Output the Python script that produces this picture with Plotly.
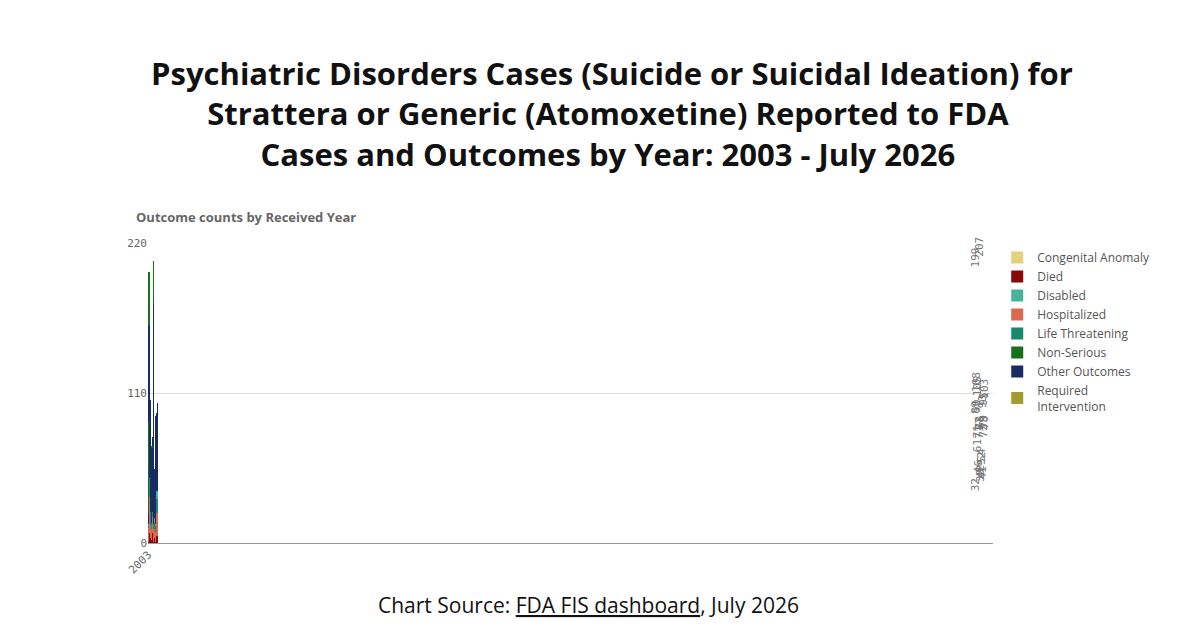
import plotly.graph_objects as go

years = [str(y) for y in range(2003, 2027)]
totals = [32, 89, 199, 108, 90, 71, 105, 46, 61, 71, 77, 78, 207, 42, 52, 39, 54, 93, 41, 79, 95, 72, 103, 78]

died = [1, 6, 14, 15, 7, 7, 6, 4, 2, 7, 12, 10, 1, 1, 12, 4, 6, 20, 1, 18, 24, 5, 20, 27]
hospitalized = [10, 16, 31, 23, 27, 12, 27, 9, 8, 12, 11, 17, 21, 9, 11, 6, 14, 25, 7, 17, 16, 17, 21, 7]
life_threatening = [2, 3, 19, 13, 13, 5, 7, 10, 5, 4, 3, 7, 6, 4, 4, 5, 10, 12, 5, 5, 5, 10, 8, 4]
disabled = [1, 0, 2, 2, 1, 4, 2, 0, 0, 0, 0, 0, 2, 0, 0, 3, 0, 0, 1, 0, 5, 6, 7, 7]
congenital = [0, 0, 0, 0, 0, 0, 0, 0, 0, 0, 0, 0, 0, 0, 0, 0, 0, 0, 0, 0, 0, 0, 0, 2]
required_int = [0, 0, 5, 0, 0, 0, 0, 0, 0, 0, 0, 0, 0, 0, 0, 0, 0, 0, 0, 0, 0, 0, 0, 0]
other = [7, 7, 88, 55, 42, 43, 63, 23, 46, 47, 51, 44, 146, 28, 25, 21, 24, 36, 27, 39, 45, 34, 47, 31]
non_serious = [11, 57, 40, 0, 0, 0, 0, 0, 0, 1, 0, 0, 31, 0, 0, 0, 0, 0, 0, 0, 0, 0, 0, 0]

# stacking order bottom -> top, legend order alphabetical via legendrank
series = [
    ("Died", died, "#880808", 2),
    ("Hospitalized", hospitalized, "#d96a50", 4),
    ("Life Threatening", life_threatening, "#17896c", 5),
    ("Disabled", disabled, "#47b39c", 3),
    ("Congenital Anomaly", congenital, "#e3d27a", 1),
    ("Required<br>Intervention", required_int, "#a39b30", 8),
    ("Other Outcomes", other, "#1a2c66", 7),
    ("Non-Serious", non_serious, "#17701c", 6),
]

fig = go.Figure()
for name, vals, col, rank in series:
    fig.add_trace(go.Bar(x=years, y=vals, name=name, marker_color=col,
                         marker_line_width=0, legendrank=rank, legendgroup=name))

for yr, t in zip(years, totals):
    fig.add_annotation(x=yr, y=t, text=str(t), textangle=-90, showarrow=False,
                       yshift=14, font=dict(family="DejaVu Sans Mono", size=11, color="#777"))

fig.update_layout(
    barmode="stack", bargap=0.33,
    width=1200, height=630,
    margin=dict(l=140, r=215, t=235, b=95),
    plot_bgcolor="white", paper_bgcolor="white",
    font=dict(family="Open Sans"),
    legend=dict(x=1.005, y=1.0, yanchor="top", traceorder="normal",
                tracegroupgap=14, itemwidth=30, font=dict(size=12, color="#555")),
    xaxis=dict(type="category", tickangle=-45,
               tickfont=dict(family="DejaVu Sans Mono", size=11, color="#666"),
               showline=True, linecolor="#999", ticks=""),
    yaxis=dict(range=[0, 220], tickvals=[0, 110, 220], showgrid=True, gridcolor="#ddd",
               tickfont=dict(family="DejaVu Sans Mono", size=11, color="#666"), zeroline=False),
)

fig.add_annotation(x=(600 - 140) / 845, y=(535 - 42) / 300, xref="paper", yref="paper",
                   xanchor="center", yanchor="top", showarrow=False, align="center",
                   text="<b> Psychiatric Disorders Cases (Suicide or Suicidal Ideation) for</b><br>"
                        "<b>Strattera or Generic (Atomoxetine) Reported to FDA</b><br>"
                        "<b>Cases and Outcomes by Year: 2003 - July 2026</b>",
                   font=dict(family="Open Sans", size=31, color="#111"))

fig.add_annotation(x=-0.017, y=1.05, xref="paper", yref="paper", xanchor="left", yanchor="bottom",
                   showarrow=False, text="<b>Outcome counts by Received Year</b>",
                   font=dict(family="Open Sans", size=13, color="#666"))
fig.add_annotation(x=(580 - 140) / 845, y=(535 - 597) / 300, xref="paper", yref="paper",
                   xanchor="center", yanchor="middle", showarrow=False,
                   text="Chart Source: <u>FDA FIS dashboard</u>, July 2026",
                   font=dict(family="Open Sans", size=21, color="#111"))

fig.write_html("out.html")
